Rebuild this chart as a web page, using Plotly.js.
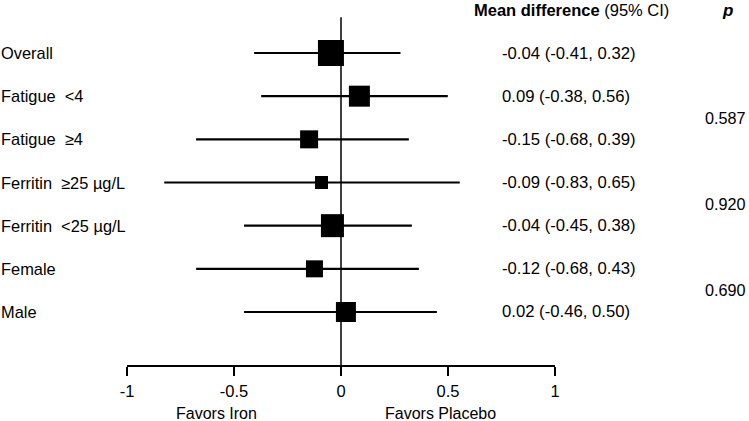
<!DOCTYPE html>
<html>
<head>
<meta charset="utf-8">
<script src="https://cdn.plot.ly/plotly-3.0.1.min.js"></script>
<style>html,body{margin:0;padding:0;background:#fff;}#chart{width:749px;height:421px;}</style>
</head>
<body>
<div id="chart"></div>
<script>
// ---- data ----
const categories = ["Overall", "Fatigue  <4", "Fatigue  ≥4", "Ferritin  ≥25 µg/L", "Ferritin  <25 µg/L", "Female", "Male"];
const meanDiff = [-0.047, 0.086, -0.149, -0.091, -0.040, -0.124, 0.023];
const ciLower = [-0.406, -0.373, -0.677, -0.826, -0.453, -0.677, -0.453];
const ciUpper = [0.278, 0.499, 0.317, 0.555, 0.331, 0.364, 0.448];
const ciLabels = ["-0.04 (-0.41, 0.32)", "0.09 (-0.38, 0.56)", "-0.15 (-0.68, 0.39)", "-0.09 (-0.83, 0.65)", "-0.04 (-0.45, 0.38)", "-0.12 (-0.68, 0.43)", "0.02 (-0.46, 0.50)"];
const pValues = ["0.587", "0.920", "0.690"];
const tickVals = [-1, -0.5, 0, 0.5, 1];
const tickLabels = ["-1", "-0.5", "0", "0.5", "1"];

// ---- presentation ----
const boxSize = [26, 21, 18, 13, 23, 17, 20];
const n = categories.length;
const rowY = categories.map((_, i) => n - i);           // 7 .. 1
const pY = [rowY[1] - 0.5, rowY[3] - 0.5, rowY[5] - 0.5];
const FONT = "Liberation Sans, Arial, sans-serif";
const esc = s => s.replace(/</g, "&lt;").replace(/  /g, " \u00a0");

const lineX = [], lineY = [];
for (let i = 0; i < n; i++) {
  lineX.push(ciLower[i], ciUpper[i], null);
  lineY.push(rowY[i], rowY[i], null);
}

const traces = [
  {type: "scatter", mode: "lines", x: lineX, y: lineY,
   line: {color: "#000", width: 2.2}, hoverinfo: "skip", showlegend: false, cliponaxis: false},
  {type: "scatter", mode: "markers", x: meanDiff, y: rowY,
   marker: {symbol: "square", size: boxSize, color: "#000", opacity: 1, line: {width: 0}},
   opacity: 1, showlegend: false, cliponaxis: false}
];

const annotations = [];
categories.forEach((c, i) => {
  annotations.push({xref: "paper", yref: "y", x: -0.2985, y: rowY[i], xanchor: "left", yanchor: "middle",
    text: esc(c), showarrow: false, font: {family: FONT, size: 16.4, color: "#000"}});
  annotations.push({xref: "paper", yref: "y", x: 0.8715, y: rowY[i], xanchor: "left", yanchor: "middle",
    text: ciLabels[i], showarrow: false, font: {family: FONT, size: 16.7, color: "#000"}});
});
pValues.forEach((p, i) => {
  annotations.push({xref: "paper", yref: "y", x: 1.346, y: pY[i], xanchor: "left", yanchor: "middle",
    text: p, showarrow: false, font: {family: FONT, size: 16.2, color: "#000"}});
});
annotations.push({xref: "paper", yref: "paper", x: 0.807, y: 0.972, xanchor: "left", yanchor: "middle",
  text: "<b>Mean difference</b> (95% CI)", showarrow: false, font: {family: FONT, size: 16.5, color: "#000"}});
annotations.push({xref: "paper", yref: "paper", x: 1.402, y: 0.972, xanchor: "center", yanchor: "middle",
  text: "<b><i>p</i></b>", showarrow: false, font: {family: FONT, size: 17, color: "#000"}});
annotations.push({xref: "x", yref: "paper", x: -0.58, y: -0.134, xanchor: "center", yanchor: "middle",
  text: "Favors Iron", showarrow: false, font: {family: FONT, size: 16, color: "#000"}});
annotations.push({xref: "x", yref: "paper", x: 0.464, y: -0.134, xanchor: "center", yanchor: "middle",
  text: "Favors Placebo", showarrow: false, font: {family: FONT, size: 16, color: "#000"}});

const layout = {
  width: 749, height: 421,
  margin: {l: 127, r: 194, t: 0, b: 56, pad: 0},
  paper_bgcolor: "#fff", plot_bgcolor: "#fff",
  font: {family: FONT, size: 16, color: "#000"},
  showlegend: false,
  xaxis: {range: [-1, 1], showgrid: false, zeroline: false, showline: true, linecolor: "#000", linewidth: 1.5,
    ticks: "outside", ticklen: 9, tickwidth: 1.5, tickcolor: "#000", tickvals: tickVals, ticktext: tickLabels,
    ticklabelstandoff: 2,
    tickfont: {family: FONT, size: 16.5, color: "#000"}, fixedrange: true},
  yaxis: {range: [-0.228, 8.228], visible: false, fixedrange: true},
  shapes: [{type: "line", xref: "x", yref: "paper", x0: 0, x1: 0, y0: 0, y1: 0.953, layer: "below",
    line: {color: "#000", width: 1.5}}],
  annotations: annotations
};

Plotly.newPlot("chart", traces, layout, {staticPlot: true, displayModeBar: false});
</script>
</body>
</html>
